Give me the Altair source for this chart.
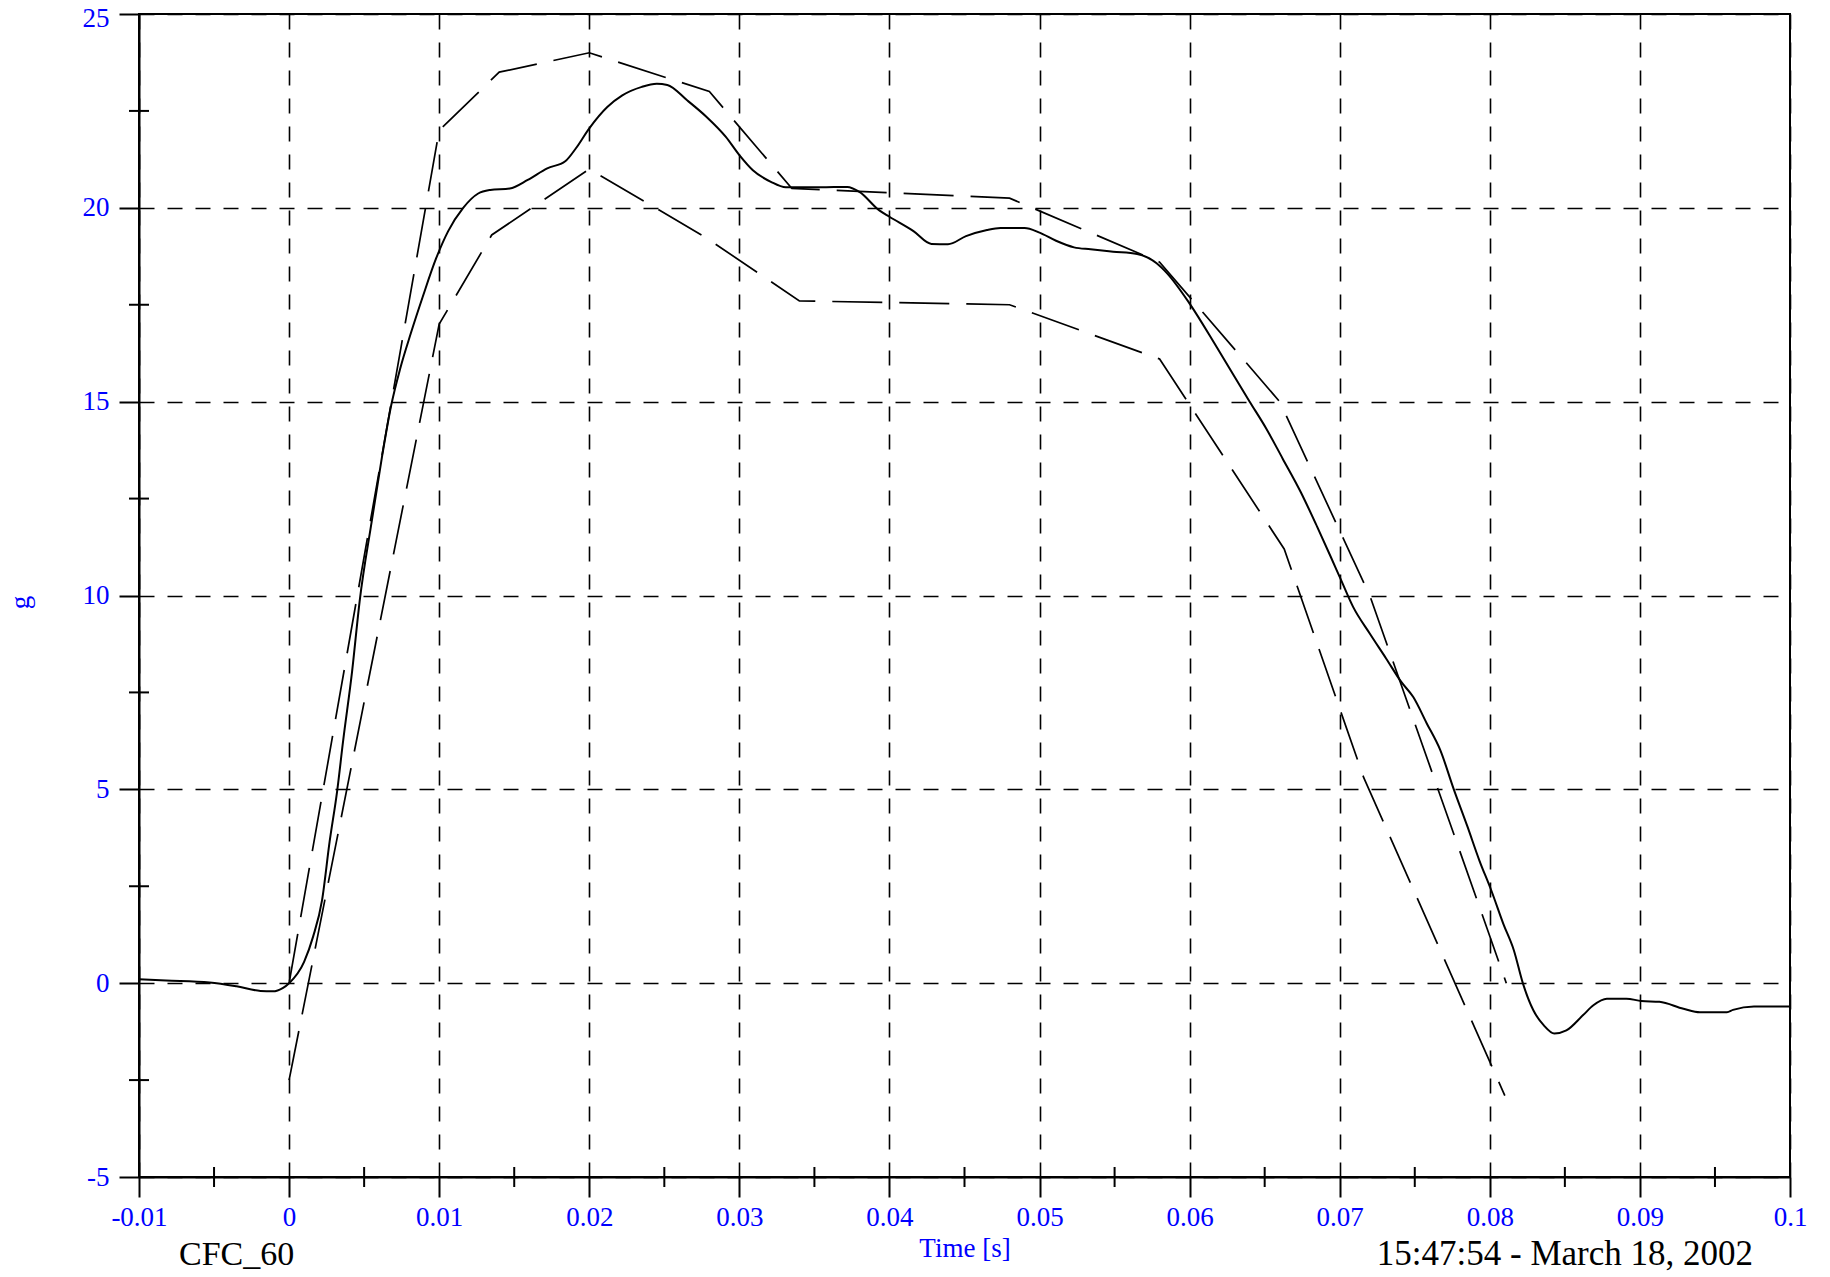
import altair as alt
import pandas as pd

# ---------------- data ----------------
sig_t = [-0.0100, -0.0082, -0.0053, -0.0035, -0.0019, -0.0011, -0.0004, 0.0000,
         0.0010, 0.0016, 0.0022, 0.0027, 0.0032, 0.0036, 0.0042, 0.0047, 0.0055,
         0.0062, 0.0068, 0.0074, 0.0081, 0.0089, 0.0098, 0.0106, 0.0116, 0.0126,
         0.0134, 0.0147,
         0.0159, 0.0172, 0.0184, 0.0191, 0.0200, 0.0212, 0.0222, 0.0235, 0.0245,
         0.0252, 0.0265, 0.0278, 0.0291, 0.0300, 0.0309, 0.0321, 0.0331, 0.0354,
         0.0372, 0.0380, 0.0393, 0.0400, 0.0416, 0.0428, 0.0439, 0.0451, 0.0465,
         0.0474, 0.0490, 0.0500, 0.0511, 0.0523, 0.0534, 0.0549, 0.0565, 0.0578,
         0.0585, 0.0600, 0.0618, 0.0640, 0.0651, 0.0662, 0.0674, 0.0685, 0.0694,
         0.0701, 0.0709, 0.0720, 0.0731, 0.0741, 0.0749, 0.0758, 0.0767, 0.0776,
         0.0785, 0.0793, 0.0801, 0.0809, 0.0816, 0.0822, 0.0829, 0.0836, 0.0843,
         0.0851, 0.0862, 0.0869, 0.0878, 0.0891, 0.0901, 0.0913, 0.0929, 0.0940,
         0.0958, 0.0962, 0.0976, 0.1000]
sig_g = [0.10, 0.07, 0.02, -0.08, -0.20, -0.21, -0.12, 0.00,
         0.55, 1.20, 2.15, 3.65, 4.95, 6.25, 8.05, 9.85, 11.9,
         13.6, 14.9, 15.85, 16.75, 17.7, 18.7, 19.4, 20.0, 20.37,
         20.46, 20.5,
         20.72, 21.02, 21.2, 21.53, 22.05, 22.6, 22.9, 23.12, 23.2,
         23.17, 22.78, 22.35, 21.83, 21.36, 20.97, 20.67, 20.53, 20.53,
         20.54, 20.41, 19.94, 19.77, 19.4, 19.07, 19.06, 19.27, 19.43,
         19.48, 19.48, 19.36, 19.15, 18.98, 18.93, 18.87, 18.81, 18.57,
         18.31, 17.53, 16.41, 15.0, 14.31, 13.53, 12.67, 11.77, 11.0,
         10.39, 9.7, 9.02, 8.37, 7.77, 7.38, 6.7, 6.01, 5.0,
         4.05, 3.17, 2.39, 1.53, 0.85, 0.0, -0.7, -1.09, -1.3,
         -1.22, -0.83, -0.57, -0.4, -0.4, -0.46, -0.48, -0.66, -0.75,
         -0.75, -0.69, -0.6, -0.6]

upper_t = [0.0, 0.010, 0.014, 0.020, 0.028, 0.0335, 0.048, 0.058, 0.066, 0.072, 0.0811]
upper_g = [0.0, 22.0, 23.5, 24.0, 23.0, 20.5, 20.25, 18.6, 15.0, 10.0, 0.0]

lower_t = [0.0, 0.010, 0.0135, 0.020, 0.0277, 0.034, 0.048, 0.058, 0.0663, 0.0716, 0.0810]
lower_g = [-2.5, 17.0, 19.3, 21.0, 19.25, 17.6, 17.5, 16.1, 11.2, 5.3, -2.9]

x_ticks = [-0.01, 0, 0.01, 0.02, 0.03, 0.04, 0.05, 0.06, 0.07, 0.08, 0.09, 0.1]
y_ticks = [-5, 0, 5, 10, 15, 20, 25]
x_minor = [-0.005, 0.005, 0.015, 0.025, 0.035, 0.045, 0.055, 0.065, 0.075, 0.085, 0.095]
y_minor = [-2.5, 2.5, 7.5, 12.5, 17.5, 22.5]

x_title = "Time [s]"
y_title = "g"
footer_left = ["CFC_60"]
footer_right = ["15:47:54 - March 18, 2002"]

# ---------------- chart ----------------
W, H = 1651, 1163
FONT = "Liberation Serif"
BLUE = "#0000ff"
minus_fix = "replace(datum.label, '\u2212', '-')"

xs = alt.Scale(domain=[-0.01, 0.1], nice=False, zero=False)
ys = alt.Scale(domain=[-5, 25], nice=False, zero=False)

x_axis = alt.Axis(values=x_ticks, format="~g", labelExpr=minus_fix,
                  grid=True, gridDash=[15, 13], gridColor="black", gridWidth=1.6, gridOpacity=1,
                  tickSize=20, tickColor="black", tickWidth=2,
                  domainColor="black", domainWidth=2,
                  labelColor=BLUE, labelFont=FONT, labelFontSize=27,
                  labelBaseline="alphabetic", labelPadding=28,
                  labelFlush=False, labelOverlap=False,
                  title=x_title, titleColor=BLUE, titleFont=FONT, titleFontSize=27,
                  titleFontWeight="normal", titleBaseline="alphabetic", titleY=79)

y_axis = alt.Axis(values=y_ticks, format="~g", labelExpr=minus_fix,
                  grid=True, gridDash=[15, 13], gridColor="black", gridWidth=1.6, gridOpacity=1,
                  tickSize=20, tickColor="black", tickWidth=2,
                  domainColor="black", domainWidth=2,
                  labelColor=BLUE, labelFont=FONT, labelFontSize=27,
                  labelBaseline="middle", labelPadding=10,
                  labelOffset={"condition": {"test": "datum.value == 25", "value": 4}, "value": 0},
                  labelFlush=False, labelOverlap=False,
                  title=y_title, titleColor=BLUE, titleFont=FONT, titleFontSize=27,
                  titleFontWeight="normal", titleAngle=270, titleBaseline="alphabetic",
                  titleAlign="center", titleX=-111, titleY=588)

x_enc = alt.X("t:Q", scale=xs, axis=x_axis)
y_enc = alt.Y("g:Q", scale=ys, axis=y_axis)

df_sig = pd.DataFrame({"t": sig_t, "g": sig_g})
df_up = pd.DataFrame({"t": upper_t, "g": upper_g})
df_lo = pd.DataFrame({"t": lower_t, "g": lower_g})
df_xm = pd.DataFrame({"t": x_minor})
df_ym = pd.DataFrame({"g": y_minor})

signal = alt.Chart(df_sig).mark_line(color="black", strokeWidth=2, interpolate="monotone").encode(x=x_enc, y=y_enc)
upper = alt.Chart(df_up).mark_line(color="black", strokeWidth=1.7, strokeDash=[50, 17]).encode(x=x_enc, y=y_enc)
lower = alt.Chart(df_lo).mark_line(color="black", strokeWidth=1.7, strokeDash=[50, 17]).encode(x=x_enc, y=y_enc)

xminor = alt.Chart(df_xm).mark_rule(color="black", strokeWidth=2).encode(
    x=x_enc, y=alt.value(H - 10), y2=alt.value(H + 10))
yminor = alt.Chart(df_ym).mark_rule(color="black", strokeWidth=2).encode(
    y=y_enc, x=alt.value(-10), x2=alt.value(10))

txt_left = alt.Chart(pd.DataFrame({"label": footer_left})).mark_text(
    align="left", baseline="alphabetic", font=FONT, fontSize=34, color="black").encode(
    x=alt.value(40), y=alt.value(1251), text="label:N")
txt_right = alt.Chart(pd.DataFrame({"label": footer_right})).mark_text(
    align="right", baseline="alphabetic", font=FONT, fontSize=35, color="black").encode(
    x=alt.value(1614), y=alt.value(1251), text="label:N")

chart = alt.layer(signal, upper, lower, xminor, yminor, txt_left, txt_right).properties(
    width=W, height=H,
    autosize=alt.AutoSizeParams(type="none"),
    padding={"left": 131, "top": 6, "right": 30, "bottom": 98},
    background="white",
).configure_view(stroke="black", strokeWidth=2)

chart.save("out.html", embed_options={"renderer": "svg", "actions": False})
